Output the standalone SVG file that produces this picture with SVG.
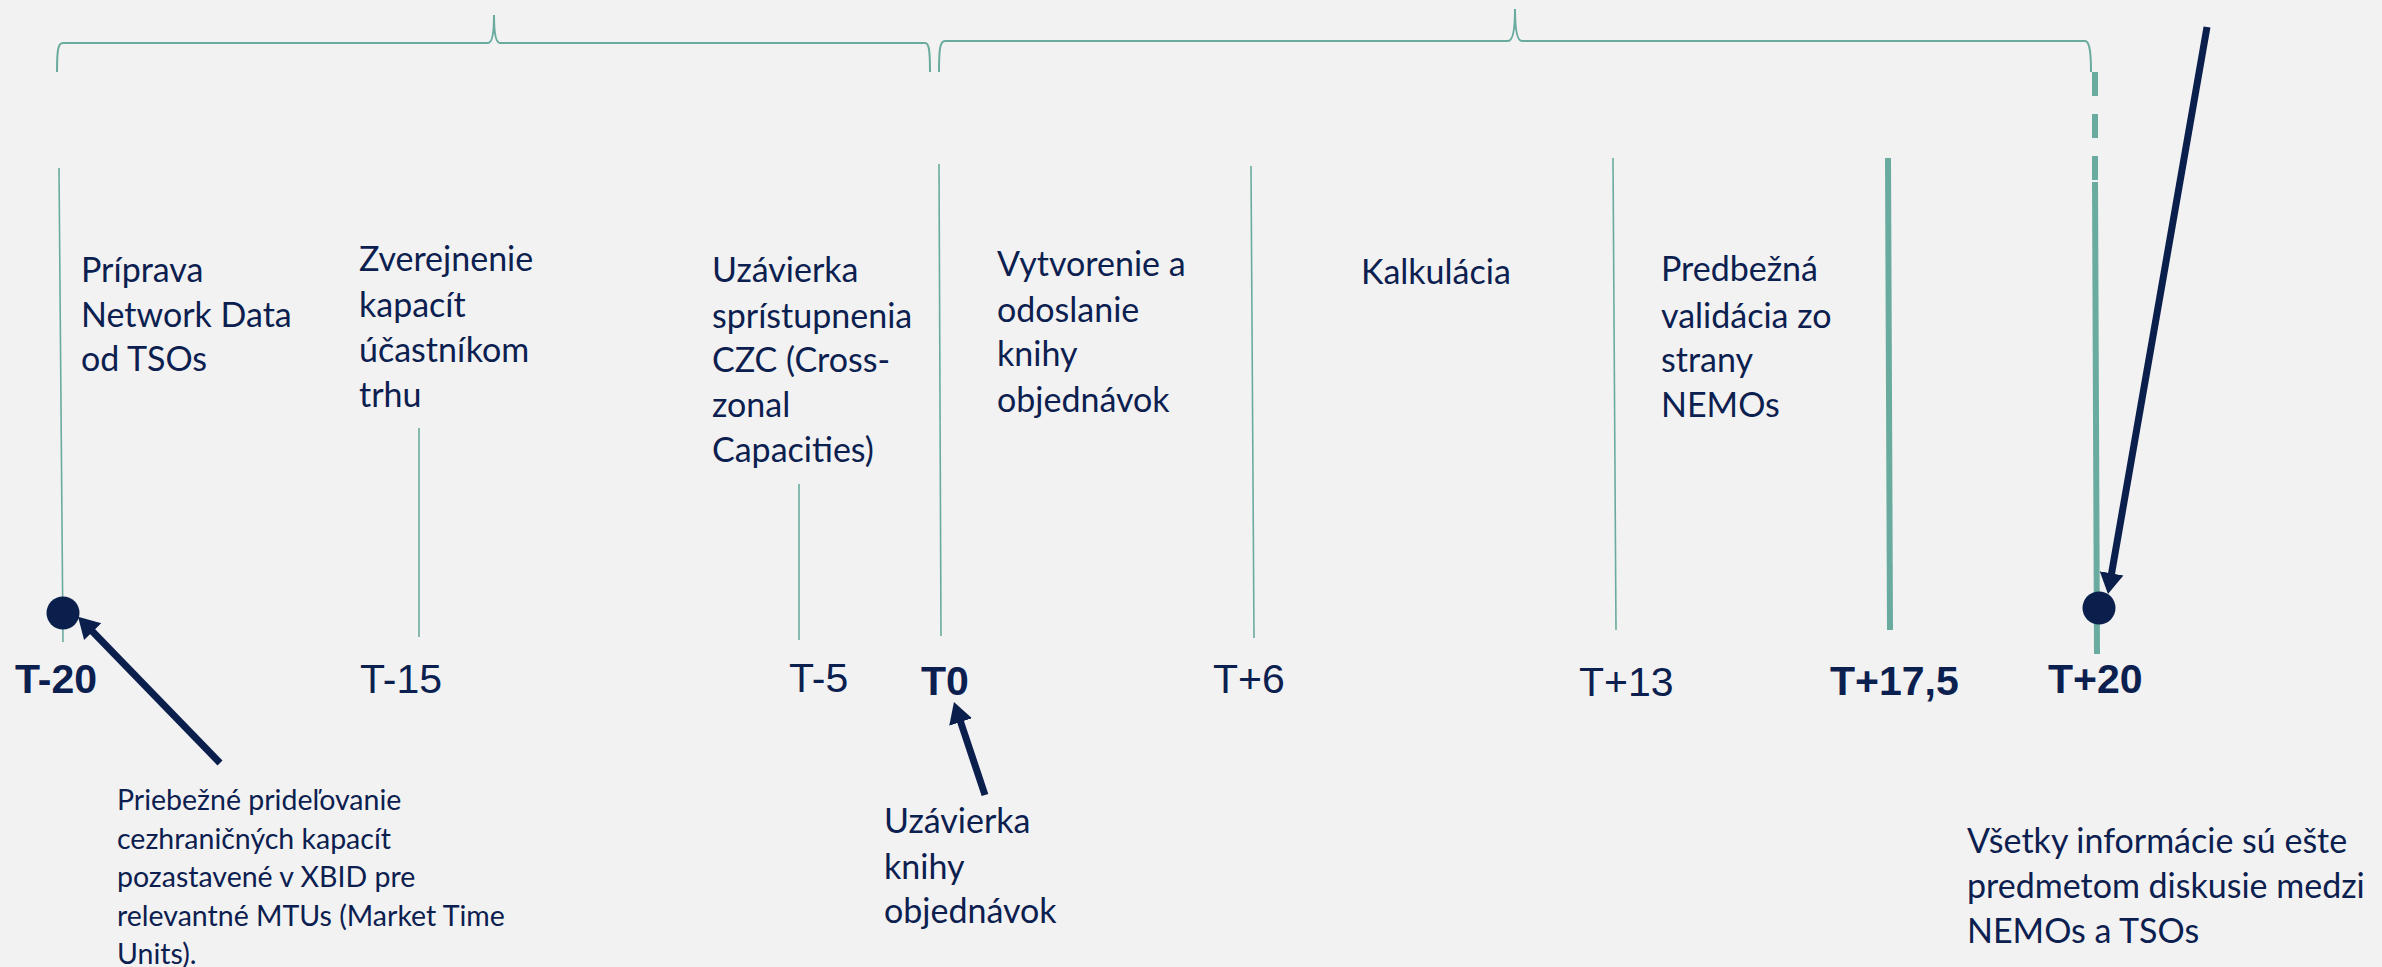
<svg xmlns="http://www.w3.org/2000/svg" width="2382" height="967" viewBox="0 0 2382 967">
  <style>
    .bg { fill: #f2f2f2; }
    .brace { fill: none; stroke: #6aab9f; stroke-width: 2; }
    .tick { fill: none; stroke: #6aab9f; stroke-width: 1.6; }
    .tick-thick { fill: none; stroke: #6aab9f; stroke-width: 6; }
    .lbl { font-family: Lato, "Liberation Sans", sans-serif; font-size: 34px; fill: #0c2050; }
    .note { font-family: Lato, "Liberation Sans", sans-serif; font-size: 28.5px; fill: #0c2050; }
    .tnum { font-family: "Liberation Sans", Arial, sans-serif; font-size: 41px; fill: #0c2050; }
    .bold { font-weight: bold; }
    .arrow { fill: none; stroke: #0b1f4d; stroke-width: 7; marker-end: url(#head); }
    .dot { fill: #0b1f4d; }
  </style>
  <defs>
    <marker id="head" markerUnits="userSpaceOnUse" markerWidth="24" markerHeight="28" viewBox="0 -14 24 28" refX="1" refY="0" orient="auto">
      <path d="M0,-12 L21,0 L0,12 Z" fill="#0b1f4d"/>
    </marker>
  </defs>
  <rect class="bg" x="0" y="0" width="2382" height="967"/>

  <g id="braces">
    <path class="brace" d="M57,72 C57,50 58,43 63,43 L488,43 C492,43 494,35 494,15 C494,35 496,43 500,43 L925,43 C929,43 930,50 930,72"/>
    <path class="brace" d="M939,72 C939,49 940,41 945,41 L1508,41 C1512,41 1515,33 1515,9 C1515,33 1518,41 1522,41 L2085,41 C2089,41 2091,49 2091,72"/>
  </g>

  <g id="timeline-ticks">
    <line class="tick" x1="59" y1="168" x2="63" y2="642"/>
    <line class="tick" x1="419" y1="428" x2="419" y2="637"/>
    <line class="tick" x1="799" y1="484" x2="799" y2="640"/>
    <line class="tick" x1="939" y1="164" x2="941" y2="636"/>
    <line class="tick" x1="1251" y1="166" x2="1254" y2="638"/>
    <line class="tick" x1="1613" y1="158" x2="1616" y2="630"/>
    <line class="tick-thick" x1="1888" y1="158" x2="1890" y2="630"/>
    <line class="tick-thick" x1="2095" y1="72" x2="2095" y2="96"/>
    <line class="tick-thick" x1="2095" y1="114" x2="2095" y2="138"/>
    <line class="tick-thick" x1="2095" y1="156" x2="2095" y2="180"/>
    <line class="tick-thick" x1="2095" y1="182" x2="2097" y2="654"/>
  </g>

  <g id="node-t-20">
    <circle class="dot" cx="63" cy="613" r="16.5"/>
    <text class="tnum bold" x="15" y="693">T-20</text>
  </g>
  <g id="node-t-15">
    <text class="tnum" x="360" y="693">T-15</text>
  </g>
  <g id="node-t-5">
    <text class="tnum" x="789" y="692">T-5</text>
  </g>
  <g id="node-t0">
    <text class="tnum bold" x="921" y="695">T0</text>
  </g>
  <g id="node-t6">
    <text class="tnum" x="1213" y="693">T+6</text>
  </g>
  <g id="node-t13">
    <text class="tnum" x="1579" y="696">T+13</text>
  </g>
  <g id="node-t17-5">
    <text class="tnum bold" x="1830" y="695">T+17,5</text>
  </g>
  <g id="node-t20">
    <circle class="dot" cx="2099" cy="608" r="16.5"/>
    <text class="tnum bold" x="2048" y="693">T+20</text>
  </g>

  <g id="label-priprava">
    <text class="lbl" x="81" y="282">Príprava</text>
    <text class="lbl" x="81" y="327">Network Data</text>
    <text class="lbl" x="81" y="371">od TSOs</text>
  </g>
  <g id="label-zverejnenie">
    <text class="lbl" x="359" y="271">Zverejnenie</text>
    <text class="lbl" x="359" y="317">kapacít</text>
    <text class="lbl" x="359" y="362">účastníkom</text>
    <text class="lbl" x="359" y="407">trhu</text>
  </g>
  <g id="label-uzavierka-czc">
    <text class="lbl" x="712" y="282">Uzávierka</text>
    <text class="lbl" x="712" y="328">sprístupnenia</text>
    <text class="lbl" x="712" y="372">CZC (Cross-</text>
    <text class="lbl" x="712" y="417">zonal</text>
    <text class="lbl" x="712" y="462">Capacities)</text>
  </g>
  <g id="label-vytvorenie">
    <text class="lbl" x="997" y="276">Vytvorenie a</text>
    <text class="lbl" x="997" y="322">odoslanie</text>
    <text class="lbl" x="997" y="366">knihy</text>
    <text class="lbl" x="997" y="412">objednávok</text>
  </g>
  <g id="label-kalkulacia">
    <text class="lbl" x="1361" y="284">Kalkulácia</text>
  </g>
  <g id="label-predbezna">
    <text class="lbl" x="1661" y="281">Predbežná</text>
    <text class="lbl" x="1661" y="328">validácia zo</text>
    <text class="lbl" x="1661" y="372">strany</text>
    <text class="lbl" x="1661" y="417">NEMOs</text>
  </g>

  <g id="note-priebezne">
    <text class="note" x="117" y="810">Priebežné prideľovanie</text>
    <text class="note" x="117" y="848.5">cezhraničných kapacít</text>
    <text class="note" x="117" y="887">pozastavené v XBID pre</text>
    <text class="note" x="117" y="925.5">relevantné MTUs (Market Time</text>
    <text class="note" x="117" y="964">Units).</text>
  </g>
  <g id="note-uzavierka-knihy">
    <text class="lbl" x="884" y="833">Uzávierka</text>
    <text class="lbl" x="884" y="879">knihy</text>
    <text class="lbl" x="884" y="923">objednávok</text>
  </g>
  <g id="note-vsetky">
    <text class="lbl" x="1967" y="853">Všetky informácie sú ešte</text>
    <text class="lbl" x="1967" y="898">predmetom diskusie medzi</text>
    <text class="lbl" x="1967" y="943">NEMOs a TSOs</text>
  </g>

  <g id="connectors">
    <line class="arrow" x1="220" y1="763" x2="92" y2="631"/>
    <line class="arrow" x1="985" y1="795" x2="960.3" y2="721"/>
    <line class="arrow" x1="2207" y1="27" x2="2111.4" y2="574.3"/>
  </g>
</svg>
